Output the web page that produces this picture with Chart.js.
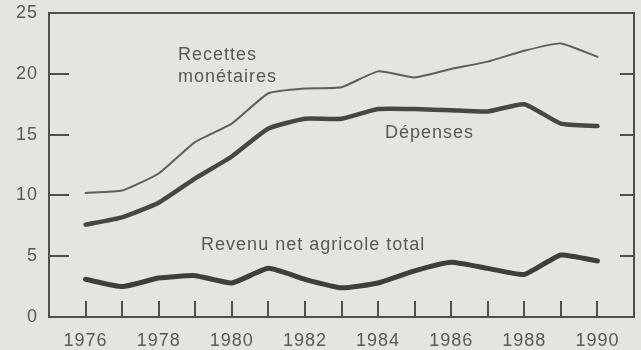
<!DOCTYPE html>
<html>
<head>
<meta charset="utf-8">
<script src="https://cdn.jsdelivr.net/npm/chart.js@4.4.1/dist/chart.umd.min.js"></script>
<style>
  html, body { margin: 0; padding: 0; background: #e4e5e1; }
  #wrap { width: 641px; height: 350px; position: relative; }
</style>
</head>
<body>
<div id="wrap"><canvas id="c" width="641" height="350"></canvas></div>
<script>
// Years on the horizontal axis
const years = [1976, 1977, 1978, 1979, 1980, 1981, 1982, 1983, 1984, 1985, 1986, 1987, 1988, 1989, 1990];
// Cash receipts
const recettes = [10.2, 10.4, 11.8, 14.4, 15.9, 18.4, 18.8, 18.9, 20.2, 19.7, 20.4, 21.0, 21.9, 22.5, 21.4];
// Expenses
const depenses = [7.6, 8.2, 9.4, 11.4, 13.2, 15.5, 16.3, 16.3, 17.1, 17.1, 17.0, 16.9, 17.5, 15.9, 15.7];
// Total net farm income
const revenu = [3.1, 2.5, 3.2, 3.4, 2.8, 4.0, 3.1, 2.4, 2.8, 3.8, 4.5, 4.0, 3.5, 5.1, 4.6];
// Axis tick labels
const xTickLabels = [1976, 1978, 1980, 1982, 1984, 1986, 1988, 1990];
const yTickLabels = [0, 5, 10, 15, 20, 25];
// Inner tick marks
const yMarks = [5, 10, 15, 20];
// Series captions
const captions = [
  { lines: ['Recettes', 'monétaires'], x: 1978.53, y: 21.1 },
  { lines: ['Dépenses'], x: 1984.19, y: 14.7 },
  { lines: ['Revenu net agricole total'], x: 1979.16, y: 5.5 }
];

const INK = '#4f504d';
const TEXT = '#585956';
const FONT = '"Liberation Sans", Arial, Helvetica, sans-serif';

const toPoints = vals => years.map((y, i) => ({ x: y, y: vals[i] }));

const noPad = s => { s.paddingTop = 0; s.paddingBottom = 0; s.paddingLeft = 0; s.paddingRight = 0; };

const framePlugin = {
  id: 'frame',
  beforeDraw(chart) {
    chart.ctx.letterSpacing = '1px';
  },
  afterDatasetsDraw(chart) {
    const { ctx, chartArea: a, scales } = chart;
    const xs = scales.x, ys = scales.y;
    ctx.save();
    ctx.strokeStyle = INK;
    ctx.lineWidth = 2;
    ctx.lineCap = 'butt';
    // frame
    ctx.strokeRect(a.left, a.top, a.right - a.left, a.bottom - a.top);
    ctx.beginPath();
    // year ticks, pointing inward from the bottom
    years.forEach(yr => {
      const px = Math.round(xs.getPixelForValue(yr));
      ctx.moveTo(px, a.bottom);
      ctx.lineTo(px, a.bottom - 16);
    });
    // value ticks on both sides
    yMarks.forEach(v => {
      const py = Math.round(ys.getPixelForValue(v));
      ctx.moveTo(a.left, py);
      ctx.lineTo(a.left + 20, py);
      ctx.moveTo(a.right, py);
      ctx.lineTo(a.right - 14, py);
    });
    ctx.stroke();
    // captions
    ctx.fillStyle = TEXT;
    ctx.font = '18px ' + FONT;
    ctx.letterSpacing = '1px';
    ctx.textAlign = 'left';
    ctx.textBaseline = 'alphabetic';
    captions.forEach(c => {
      const px = xs.getPixelForValue(c.x);
      const py = ys.getPixelForValue(c.y);
      c.lines.forEach((t, i) => ctx.fillText(t, px, py + i * 22));
    });
    ctx.restore();
  }
};

new Chart(document.getElementById('c'), {
  type: 'line',
  data: {
    datasets: [
      { label: 'Recettes monétaires', data: toPoints(recettes), borderColor: '#5e5f5b', borderWidth: 2, tension: 0.15 },
      { label: 'Dépenses', data: toPoints(depenses), borderColor: '#464744', borderWidth: 4.5, tension: 0.15 },
      { label: 'Revenu net agricole total', data: toPoints(revenu), borderColor: '#3e3f3c', borderWidth: 5, tension: 0.15 }
    ]
  },
  options: {
    responsive: false,
    animation: false,
    events: [],
    elements: { point: { radius: 0 }, line: { borderCapStyle: 'round', borderJoinStyle: 'round' } },
    layout: { padding: { left: 0, top: 13, right: 7, bottom: 0 } },
    plugins: { legend: { display: false }, tooltip: { enabled: false } },
    scales: {
      x: {
        type: 'linear',
        min: 1975,
        max: 1991,
        grid: { display: false, drawTicks: false },
        border: { display: false },
        afterBuildTicks: s => { s.ticks = xTickLabels.map(v => ({ value: v })); },
        afterFit: s => { s.height = 350 - 13 - 304; noPad(s); },
        ticks: { color: TEXT, font: { family: FONT, size: 18 }, padding: 13, maxRotation: 0, autoSkip: false, callback: v => String(v) }
      },
      y: {
        min: 0,
        max: 25,
        grid: { display: false, drawTicks: false },
        border: { display: false },
        afterBuildTicks: s => { s.ticks = yTickLabels.map(v => ({ value: v })); },
        afterFit: s => { s.width = 49; noPad(s); },
        ticks: { color: TEXT, font: { family: FONT, size: 18 }, padding: 11 }
      }
    }
  },
  plugins: [framePlugin]
});
</script>
</body>
</html>
